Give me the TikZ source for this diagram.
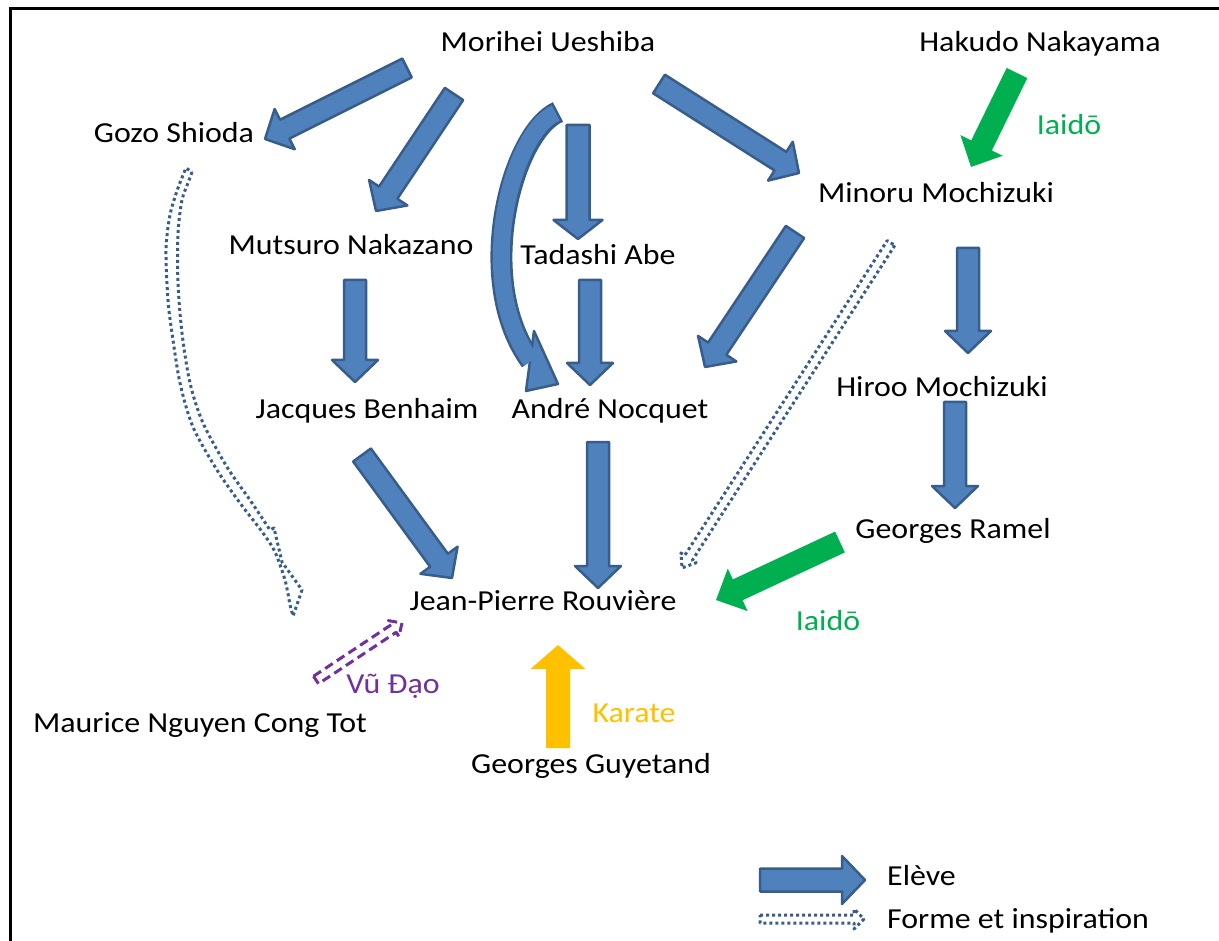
\documentclass[tikz,border=0pt]{standalone}
\usepackage{fontspec}
\setmainfont{Carlito}[FakeStretch=1.1]
\usetikzlibrary{calc}

\definecolor{eleveblue}{HTML}{4F81BD}
\definecolor{eleveline}{HTML}{385D8A}
\definecolor{iaidogreen}{HTML}{00B050}
\definecolor{karateorange}{HTML}{FFC000}
\definecolor{vudaopurple}{HTML}{7030A0}

\tikzset{
  body w/.store in=\bodyw, head w/.store in=\headw, head l/.store in=\headl,
  body w=22, head w=46, head l=22,
  person/.style={font=\fontsize{29}{34}\selectfont, inner sep=0pt, text height=23pt, text depth=3pt},
  eleve/.style={fill=eleveblue, draw=eleveline, line width=2.5pt, line join=round},
  iaido/.style={fill=iaidogreen, body w=23, head w=47, head l=24},
  karate/.style={fill=karateorange, body w=24, head w=55, head l=24},
  vudao/.style={draw=vudaopurple, line width=3pt, dash pattern=on 9pt off 5pt, line join=round, body w=9, head w=19, head l=10},
  forme/.style={draw=eleveline, line width=3pt, dash pattern=on 3pt off 3pt, line join=round, body w=9, head w=18, head l=12},
}

% block arrow between two named points
\newcommand\blockarrow[3][eleve]{%
  \path let \p1=($(#3)-(#2)$) in \pgfextra{%
    \pgfmathsetmacro\arrang{atan2(\y1,\x1)}%
    \pgfmathsetmacro\arrlen{veclen(\x1,\y1)}%
    \global\let\arrang\arrang \global\let\arrlen\arrlen};
  \path[shift={(#2)}, rotate=\arrang, #1]
    (0,-\bodyw/2) -- (\arrlen-\headl,-\bodyw/2) -- (\arrlen-\headl,-\headw/2)
    -- (\arrlen,0) -- (\arrlen-\headl,\headw/2) -- (\arrlen-\headl,\bodyw/2)
    -- (0,\bodyw/2) -- cycle;}

\begin{document}
\begin{tikzpicture}[x=1pt, y=-1pt]
\useasboundingbox (0,0) rectangle (1219,941);
\draw[line width=2.5pt] (10.5,941) -- (10.5,8.5) -- (1219,8.5);

% people
\node[person] (ueshiba) at (548,42) {Morihei Ueshiba};
\node[person] (nakayama) at (1040,42) {Hakudo Nakayama};
\node[person] (shioda) at (174,133) {Gozo Shioda};
\node[person] (minoru) at (936,193) {Minoru Mochizuki};
\node[person] (nakazano) at (351,245) {Mutsuro Nakazano};
\node[person] (abe) at (598,255) {Tadashi Abe};
\node[person] (hiroo) at (942,387) {Hiroo Mochizuki};
\node[person] (benhaim) at (367,408) {Jacques Benhaim};
\node[person] (nocquet) at (610,408) {André Nocquet};
\node[person] (ramel) at (953,528) {Georges Ramel};
\node[person] (rouviere) at (543,600) {Jean-Pierre Rouvière};
\node[person] (tot) at (200,722) {Maurice Nguyen Cong Tot};
\node[person] (guyetand) at (591,763) {Georges Guyetand};

% labels
\node[person, text=iaidogreen] (iaido1) at (1069,125) {Iaidō};
\node[person, text=iaidogreen] (iaido2) at (828,620) {Iaidō};
\node[person, text=vudaopurple] (vudao) at (393,683) {Vũ Đạo};
\node[person, text=karateorange] (karate) at (634,712) {Karate};

% arrow ends
\coordinate (ue-go a) at (407,68);  \coordinate (ue-go b) at (265,139);
\coordinate (ue-na a) at (454,94);  \coordinate (ue-na b) at (376,211);
\coordinate (ue-ab a) at (578,125); \coordinate (ue-ab b) at (578,239);
\coordinate (ue-mi a) at (659,84);  \coordinate (ue-mi b) at (799,173);
\coordinate (ue-no a) at (558,112); \coordinate (ue-no b) at (531,361);
\coordinate (hn-mi a) at (1017,73); \coordinate (hn-mi b) at (971,167);
\coordinate (na-be a) at (355,280); \coordinate (na-be b) at (355,382);
\coordinate (ab-no a) at (590,280); \coordinate (ab-no b) at (590,385);
\coordinate (mi-no a) at (795,232); \coordinate (mi-no b) at (705,367);
\coordinate (mi-hi a) at (968,248); \coordinate (mi-hi b) at (968,353);
\coordinate (hi-ra a) at (955,402); \coordinate (hi-ra b) at (955,508);
\coordinate (be-ro a) at (362,455); \coordinate (be-ro b) at (452,578);
\coordinate (no-ro a) at (598,442); \coordinate (no-ro b) at (598,588);
\coordinate (ra-ro a) at (840,542); \coordinate (ra-ro b) at (716,600);
\coordinate (gu-ro a) at (558,748); \coordinate (gu-ro b) at (558,645);
\coordinate (to-ro a) at (316,680); \coordinate (to-ro b) at (402,623);
\coordinate (mi-ro a) at (891,243); \coordinate (mi-ro b) at (682,568);

% eleve
\blockarrow[eleve, body w=21, head w=45]{ue-go a}{ue-go b}
\blockarrow{ue-na a}{ue-na b}
\blockarrow[eleve, body w=23, head w=49, head l=19]{ue-ab a}{ue-ab b}
\blockarrow{ue-mi a}{ue-mi b}
\blockarrow{na-be a}{na-be b}
\blockarrow{ab-no a}{ab-no b}
\blockarrow{mi-no a}{mi-no b}
\blockarrow{mi-hi a}{mi-hi b}
\blockarrow{hi-ra a}{hi-ra b}
\blockarrow{be-ro a}{be-ro b}
\blockarrow{no-ro a}{no-ro b}
\draw[eleveline, line width=22pt] (ue-no a) .. controls (512,132) and (472,280) .. (ue-no b);
\filldraw[eleve] (534,331) -- (558,384) -- (526,391) -- cycle;
\draw[eleveblue, line width=17pt, shorten <=2.5pt] (ue-no a) .. controls (512,132) and (472,280) .. (ue-no b);

% other arts
\blockarrow[iaido]{hn-mi a}{hn-mi b}
\blockarrow[iaido]{ra-ro a}{ra-ro b}
\blockarrow[karate]{gu-ro a}{gu-ro b}
\blockarrow[vudao]{to-ro a}{to-ro b}

% forme et inspiration
\blockarrow[forme]{mi-ro a}{mi-ro b}
\draw[forme] plot[smooth] coordinates {(192,172) (188,183) (182,200) (178,233) (178,283)
  (182,333) (190,383) (203,423) (227,467) (250,500) (270,530)}
  -- (274,528) -- (282,562) -- (302,590) -- (293,616)
  -- plot[smooth] coordinates {(290,605) (285,580) (275,552) (263,533) (240,503) (217,470)
  (193,427) (180,383) (172,333) (168,300) (166,250) (170,215) (178,188) (186,168)} -- cycle;

% legend
\coordinate (el a) at (760,880); \coordinate (el b) at (865,880);
\coordinate (fo a) at (760,919); \coordinate (fo b) at (864,919);
\blockarrow[eleve, body w=23, head w=48, head l=23]{el a}{el b}
\blockarrow[forme, body w=8, head w=20, head l=10]{fo a}{fo b}
\node[person, anchor=west] (eleve) at (887,875) {Elève};
\node[person, anchor=west] (forme) at (887,918) {Forme et inspiration};
\end{tikzpicture}
\end{document}
